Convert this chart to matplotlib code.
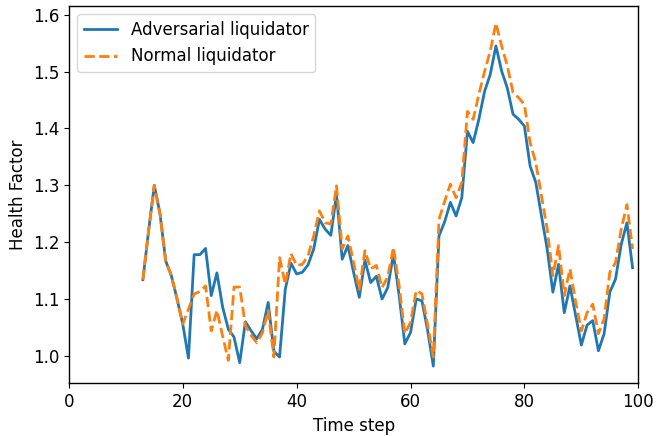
import matplotlib
matplotlib.use("Agg")
import matplotlib.pyplot as plt
import numpy as np

steps = np.arange(13, 100)

adversarial = [
    1.134, 1.220, 1.300, 1.250, 1.167, 1.141, 1.100, 1.056, 0.996, 1.178,
    1.178, 1.189, 1.106, 1.146, 1.086, 1.047, 1.033, 0.988, 1.060, 1.044,
    1.030, 1.047, 1.094, 1.008, 0.998, 1.117, 1.163, 1.144, 1.147, 1.160,
    1.188, 1.240, 1.223, 1.212, 1.284, 1.170, 1.194, 1.147, 1.103, 1.168,
    1.129, 1.140, 1.100, 1.120, 1.179, 1.106, 1.021, 1.041, 1.100, 1.097,
    1.045, 0.982, 1.211, 1.236, 1.270, 1.246, 1.278, 1.395, 1.375, 1.416,
    1.465, 1.495, 1.545, 1.501, 1.471, 1.425, 1.416, 1.404, 1.334, 1.305,
    1.246, 1.188, 1.112, 1.161, 1.076, 1.123, 1.071, 1.019, 1.054, 1.062,
    1.009, 1.039, 1.112, 1.135, 1.196, 1.234, 1.155,
]

normal = [
    1.134, 1.220, 1.300, 1.250, 1.167, 1.141, 1.100, 1.056, 1.082, 1.109,
    1.113, 1.123, 1.044, 1.080, 1.035, 0.992, 1.121, 1.121, 1.053, 1.036,
    1.023, 1.041, 1.080, 0.998, 1.173, 1.126, 1.180, 1.159, 1.161, 1.176,
    1.211, 1.255, 1.234, 1.232, 1.299, 1.188, 1.211, 1.164, 1.117, 1.185,
    1.153, 1.159, 1.120, 1.139, 1.191, 1.123, 1.039, 1.059, 1.115, 1.109,
    1.055, 0.998, 1.240, 1.272, 1.302, 1.278, 1.305, 1.430, 1.416, 1.460,
    1.500, 1.536, 1.585, 1.545, 1.510, 1.463, 1.454, 1.442, 1.375, 1.340,
    1.281, 1.223, 1.141, 1.194, 1.106, 1.153, 1.095, 1.044, 1.076, 1.091,
    1.039, 1.065, 1.147, 1.164, 1.223, 1.266, 1.188,
]

plt.rcParams.update({"font.size": 12, "axes.linewidth": 1.0})

fig, ax = plt.subplots(figsize=(6.56, 4.36), dpi=100)
fig.subplots_adjust(left=0.105, right=0.973, top=0.986, bottom=0.121)

ax.plot(steps, adversarial, color="#1f77b4", linewidth=2, label="Adversarial liquidator")
ax.plot(steps, normal, color="#ff7f0e", linewidth=2, linestyle="--", label="Normal liquidator")

ax.set_xlim(0, 100)
ax.set_xlabel("Time step")
ax.set_ylabel("Health Factor")
ax.legend(loc="upper left")

fig.savefig("out.png", dpi=100)
